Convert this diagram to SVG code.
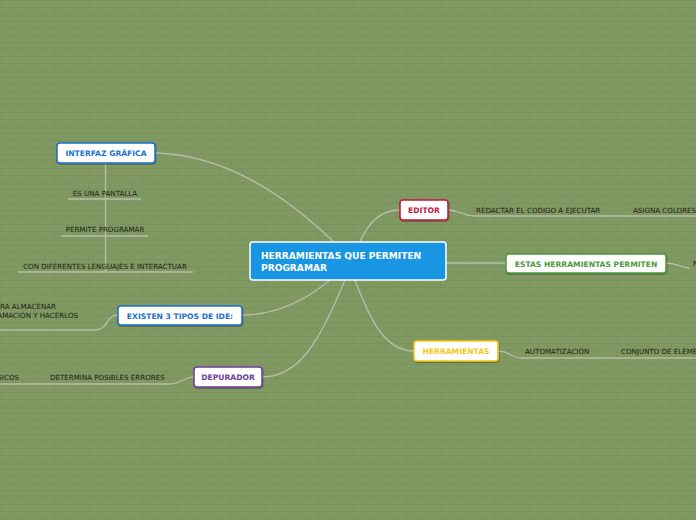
<svg xmlns="http://www.w3.org/2000/svg" width="696" height="520" viewBox="0 0 696 520">
<defs>
<pattern id="brick" width="44" height="14" patternUnits="userSpaceOnUse">
<rect width="44" height="14" fill="#809862"/>
<path d="M0 0.5H44M0 7.5H44M0.5 0V7M22.5 0V7M11.5 7V14M33.5 7V14" stroke="#7a925c" stroke-width="1" fill="none"/>
</pattern>
<filter id="sh" x="-10%" y="-20%" width="120%" height="150%">
<feDropShadow dx="0.5" dy="1" stdDeviation="0.6" flood-color="#000" flood-opacity="0.35"/>
</filter>
</defs>
<style>
.c{fill:none;stroke:#b6bcaa;stroke-width:1.4}
.box{fill:#fff;stroke-width:1.5;filter:url(#sh)}
.nt{font-family:"DejaVu Sans",Verdana,sans-serif;font-weight:bold;font-size:7.6px;text-anchor:middle}
.lt{font-family:"DejaVu Sans",Verdana,sans-serif;font-size:7.1px;fill:#1e2414}
</style>
<rect width="696" height="520" fill="url(#brick)"/>
<g id="connectors">
<path class="c" d="M155 153C230 155 290 200 335 243"/>
<path class="c" d="M360 242C370 218 385 210 400 210"/>
<path class="c" d="M446 263H506"/>
<path class="c" d="M355 280C370 320 385 351 414 351"/>
<path class="c" d="M330 280C300 305 270 315 242 315"/>
<path class="c" d="M345 280C320 340 300 377 262 377"/>
<path class="c" d="M448 210C460 210 462 216 475 216H696"/>
<path class="c" d="M498 351C510 351 510 358 522 358H696"/>
<path class="c" d="M666 263C678 263 680 268 690 268"/>
<path class="c" d="M118 315C106 315 108 330 95 330H0"/>
<path class="c" d="M194 377C182 377 182 384 170 384H0"/>
<path class="c" d="M105.5 163V272M68 199H141M61 236H148M18 272H193"/>
</g>
<g id="central">
<rect x="250" y="242" width="196" height="38" rx="3" fill="#1996e3" stroke="#fff" stroke-width="1.5"/>
<text x="261" y="259" font-family="DejaVu Sans,Verdana,sans-serif" font-weight="bold" font-size="9.1" fill="#fff">HERRAMIENTAS QUE PERMITEN</text>
<text x="261" y="270.5" font-family="DejaVu Sans,Verdana,sans-serif" font-weight="bold" font-size="9.1" fill="#fff">PROGRAMAR</text>
</g>
<g id="editor">
<rect class="box" x="400" y="200" width="48" height="20" rx="3" stroke="#c8143c"/>
<text class="nt" x="424" y="213" fill="#c8143c">EDITOR</text>
</g>
<g id="editor-c1"><text class="lt" x="476" y="213">REDACTAR EL CODIGO A EJECUTAR</text></g>
<g id="editor-c2"><text class="lt" x="633" y="213">ASIGNA COLORES</text></g>
<g id="estas">
<rect class="box" x="506" y="254" width="160" height="19" rx="3" stroke="#4a9a3c"/>
<text class="nt" x="586" y="266.5" fill="#4a9a3c">ESTAS HERRAMIENTAS PERMITEN</text>
</g>
<g id="estas-c1"><text class="lt" x="693" y="266">N</text></g>
<g id="herramientas">
<rect class="box" x="414" y="341" width="84" height="20" rx="3" stroke="#f2c814"/>
<text class="nt" x="456" y="354" fill="#f2c814">HERRAMIENTAS</text>
</g>
<g id="herr-c1"><text class="lt" x="525" y="354">AUTOMATIZACIÓN</text></g>
<g id="herr-c2"><text class="lt" x="621" y="354">CONJUNTO DE ELEMENTOS</text></g>
<g id="interfaz">
<rect class="box" x="57" y="143" width="98" height="20" rx="3" stroke="#1b6fd1"/>
<text class="nt" x="106" y="156" fill="#1b6fd1">INTERFAZ GRÁFICA</text>
</g>
<g id="interfaz-c1"><text class="lt" x="105" y="196" text-anchor="middle">ES UNA PANTALLA</text></g>
<g id="interfaz-c2"><text class="lt" x="105" y="232" text-anchor="middle">PERMITE PROGRAMAR</text></g>
<g id="interfaz-c3"><text class="lt" x="105" y="269" text-anchor="middle">CON DIFERENTES LENGUAJES E INTERACTUAR</text></g>
<g id="existen">
<rect class="box" x="118" y="306" width="124" height="19" rx="3" stroke="#1b6fd1"/>
<text class="nt" x="180" y="318.5" fill="#1b6fd1">EXISTEN 3 TIPOS DE IDE:</text>
</g>
<g id="existen-c1">
<text class="lt" x="56" y="309" text-anchor="end">RA ALMACENAR</text>
<text class="lt" x="78" y="318" text-anchor="end">AMACIÓN Y HACERLOS</text>
</g>
<g id="depurador">
<rect class="box" x="194" y="367" width="68" height="20" rx="3" stroke="#6b3d9a"/>
<text class="nt" x="228" y="380" fill="#6b3d9a">DEPURADOR</text>
</g>
<g id="dep-c1"><text class="lt" x="50" y="380">DETERMINA POSIBLES ERRORES</text></g>
<g id="dep-c2"><text class="lt" x="19" y="380" text-anchor="end">SICOS</text></g>
</svg>
